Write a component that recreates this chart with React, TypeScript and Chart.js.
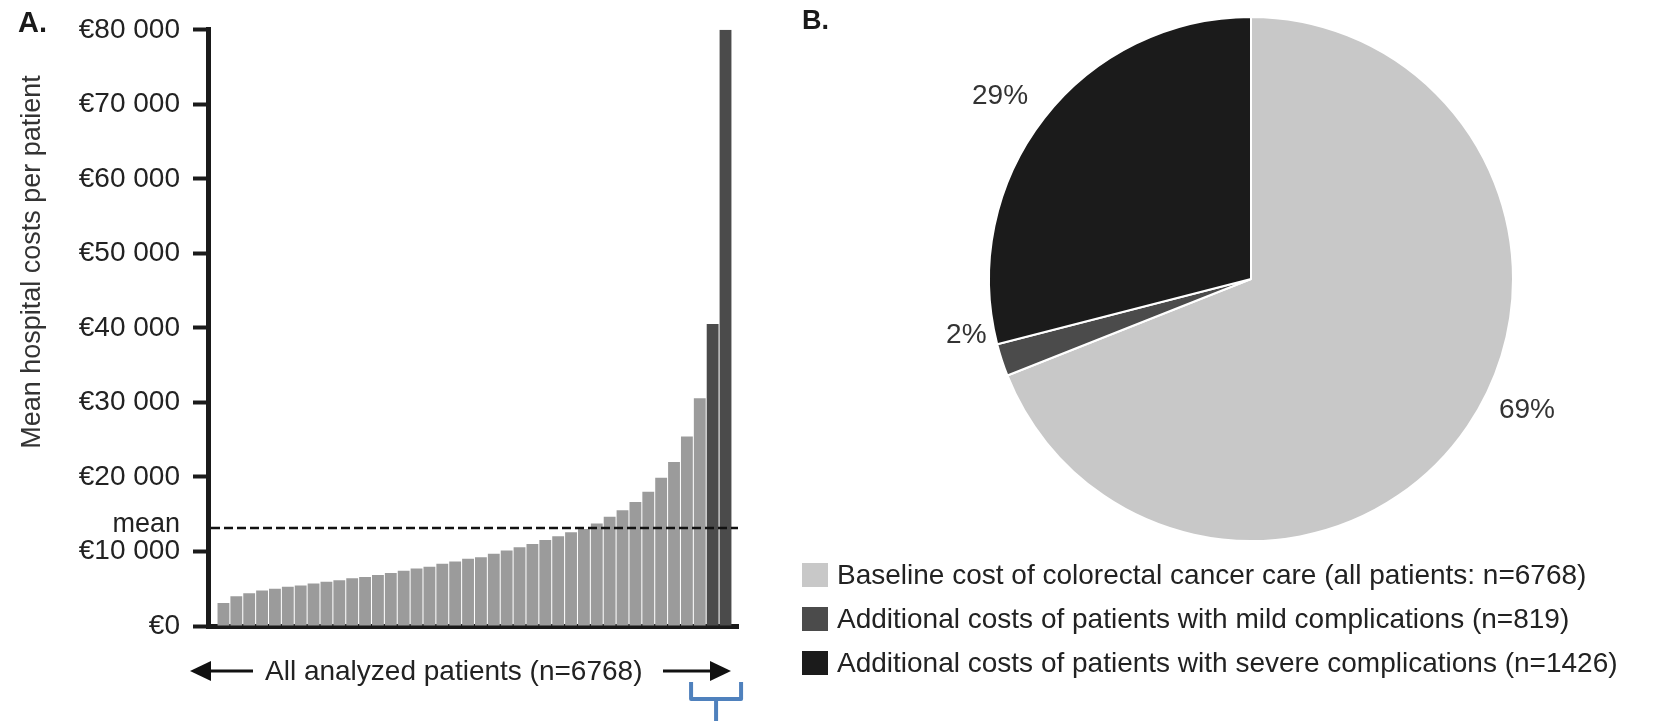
import React, { useEffect, useRef } from 'react';
import { Chart, registerables } from 'chart.js';

Chart.register(...registerables);

const FONT = '"Liberation Sans", Arial, Helvetica, sans-serif';

// Panel A: mean hospital costs per patient group (sorted), euros
const barCosts = [
  3100, 4000, 4400, 4750, 5000, 5250, 5450, 5700, 5950, 6130,
  6400, 6570, 6840, 7100, 7410, 7730, 7950, 8350, 8660, 9010,
  9240, 9680, 10120, 10570, 11010, 11540, 12030, 12570, 13010, 13770,
  14650, 15540, 16650, 18030, 19890, 22020, 25440, 30550, 40530, 80000,
];
const highlightedBars = 2; // last bars shown darker
const meanCost = 13150;
const yMax = 80000;
const yStep = 10000;
const yAxisTitle = 'Mean hospital costs per patient';
const xAxisNote = 'All analyzed patients (n=6768)';
const meanLabel = 'mean';

// Panel B: share of total costs
const pieLabels = [
  'Baseline cost of colorectal cancer care (all patients: n=6768)',
  'Additional costs of patients with mild complications (n=819)',
  'Additional costs of patients with severe complications (n=1426)',
];
const pieShares = [69, 2, 29];
const pieValueLabels = ['69%', '2%', '29%'];

// styles
const pieColors = ['#c8c8c8', '#4b4b4b', '#1b1b1b'];
const barLight = '#9b9b9b';
const barDark = '#4b4b4b';
const pieLabelShiftDeg = [-9, 7, -1.6];
const pieLabelGap = [43, 28, 49];

function formatEuro(v: number) {
  if (v === 0) return '€0';
  return '€' + Math.round(v / 1000) + ' 000';
}

export default function App() {
  const barRef = useRef<HTMLCanvasElement | null>(null);
  const pieRef = useRef<HTMLCanvasElement | null>(null);

  useEffect(() => {
    if (!barRef.current || !pieRef.current) return;

    const barColors = barCosts.map((_, i) =>
      i >= barCosts.length - highlightedBars ? barDark : barLight
    );

    const barDecor = {
      id: 'barDecor',
      afterDraw(chart: any) {
        const { ctx, chartArea, scales } = chart;
        const ys = scales.y;
        const xs = scales.x;
        ctx.save();
        // mean line
        const my = ys.getPixelForValue(meanCost);
        ctx.strokeStyle = '#111';
        ctx.lineWidth = 2.5;
        ctx.setLineDash([9, 4]);
        ctx.beginPath();
        ctx.moveTo(chartArea.left + 3, my);
        ctx.lineTo(chartArea.right, my);
        ctx.stroke();
        ctx.setLineDash([]);

        // mean label
        ctx.fillStyle = '#222';
        ctx.font = `27px ${FONT}`;
        ctx.textAlign = 'right';
        ctx.textBaseline = 'alphabetic';
        ctx.fillText(meanLabel, chartArea.left - 28, my + 4);

        // y title
        ctx.save();
        ctx.translate(33, 262);
        ctx.rotate(-Math.PI / 2);
        ctx.textAlign = 'center';
        ctx.textBaseline = 'middle';
        ctx.font = `27px ${FONT}`;
        ctx.fillStyle = '#333';
        ctx.fillText(yAxisTitle, 0, 0);
        ctx.restore();

        // panel letter
        ctx.font = `bold 29px ${FONT}`;
        ctx.fillStyle = '#1a1a1a';
        ctx.textAlign = 'left';
        ctx.textBaseline = 'alphabetic';
        ctx.fillText('A.', 18, 32);

        // x annotation with arrows
        const ay = 671;
        ctx.fillStyle = '#222';
        ctx.font = `28px ${FONT}`;
        ctx.fillText(xAxisNote, 265, 680);
        ctx.strokeStyle = '#111';
        ctx.lineWidth = 3;
        ctx.beginPath();
        ctx.moveTo(205, ay);
        ctx.lineTo(253, ay);
        ctx.moveTo(663, ay);
        ctx.lineTo(714, ay);
        ctx.stroke();
        ctx.fillStyle = '#111';
        ctx.beginPath();
        ctx.moveTo(190, ay);
        ctx.lineTo(211, ay - 10);
        ctx.lineTo(211, ay + 10);
        ctx.closePath();
        ctx.fill();
        ctx.beginPath();
        ctx.moveTo(731, ay);
        ctx.lineTo(710, ay - 10);
        ctx.lineTo(710, ay + 10);
        ctx.closePath();
        ctx.fill();

        // bracket under highlighted bars
        const n = barCosts.length;
        const cx =
          (xs.getPixelForValue(n - highlightedBars) + xs.getPixelForValue(n - 1)) / 2 - 3;
        ctx.strokeStyle = '#4f81bd';
        ctx.lineWidth = 4;
        ctx.lineJoin = 'round';
        ctx.lineCap = 'butt';
        ctx.beginPath();
        ctx.moveTo(cx - 25, 682);
        ctx.lineTo(cx - 25, 699);
        ctx.lineTo(cx + 25, 699);
        ctx.lineTo(cx + 25, 682);
        ctx.moveTo(cx, 699);
        ctx.lineTo(cx, 722);
        ctx.stroke();
        ctx.restore();
      },
    };

    const bar = new Chart(barRef.current, {
      type: 'bar',
      data: {
        datasets: [
          {
            data: barCosts.map((v, i) => ({ x: i, y: v })),
            backgroundColor: barColors,
            borderWidth: 0,
            barPercentage: 0.92,
            categoryPercentage: 1,
          },
        ],
      },
      options: {
        animation: false,
        responsive: false,
        maintainAspectRatio: false,
        layout: { padding: { left: 0, right: 22, top: 25, bottom: 95 } },
        plugins: { legend: { display: false }, tooltip: { enabled: false } },
        scales: {
          x: {
            type: 'linear',
            min: -1.2,
            max: barCosts.length - 0.03,
            offset: false,
            grid: { display: false, drawTicks: false, offset: false },
            ticks: { display: false },
            border: { display: true, color: '#1a1a1a', width: 5 },
            afterFit: (s: any) => {
              s.height = 0;
            },
          },
          y: {
            min: 0,
            max: yMax,
            ticks: {
              stepSize: yStep,
              callback: (v: any) => formatEuro(Number(v)),
              font: { family: FONT, size: 28 },
              color: '#222',
              padding: 13,
            },
            grid: {
              drawOnChartArea: false,
              drawTicks: true,
              tickLength: 15,
              tickWidth: 4,
              color: '#1a1a1a',
            },
            border: { display: true, color: '#1a1a1a', width: 5 },
            afterFit: (s: any) => {
              s.width = 208;
            },
          },
        },
      } as any,
      plugins: [barDecor as any],
    });

    const pieDecor = {
      id: 'pieDecor',
      afterDraw(chart: any) {
        const { ctx } = chart;
        const meta = chart.getDatasetMeta(0);
        ctx.save();
        ctx.font = `28px ${FONT}`;
        ctx.fillStyle = '#333';
        ctx.textAlign = 'center';
        ctx.textBaseline = 'middle';
        meta.data.forEach((arc: any, i: number) => {
          const p = arc.getProps(['x', 'y', 'startAngle', 'endAngle', 'outerRadius'], true);
          const a = (p.startAngle + p.endAngle) / 2 + (pieLabelShiftDeg[i] * Math.PI) / 180;
          const r = p.outerRadius + pieLabelGap[i];
          ctx.fillText(pieValueLabels[i], p.x + Math.cos(a) * r, p.y + Math.sin(a) * r + 1);
        });
        ctx.font = `bold 27px ${FONT}`;
        ctx.fillStyle = '#1a1a1a';
        ctx.textAlign = 'left';
        ctx.textBaseline = 'alphabetic';
        ctx.fillText('B.', 22, 29);
        ctx.restore();
      },
    };

    const pie = new Chart(pieRef.current, {
      type: 'pie',
      data: {
        labels: pieLabels,
        datasets: [
          {
            data: pieShares,
            backgroundColor: pieColors,
            borderColor: '#ffffff',
            borderWidth: 2,
          },
        ],
      },
      options: {
        animation: false,
        responsive: false,
        maintainAspectRatio: false,
        layout: { padding: { left: 208, right: 144, top: 16, bottom: 18 } },
        plugins: { legend: { display: false }, tooltip: { enabled: false } },
      } as any,
      plugins: [pieDecor as any],
    });

    return () => {
      bar.destroy();
      pie.destroy();
    };
  }, []);

  return (
    <div
      style={{
        position: 'absolute',
        left: 0,
        top: 0,
        width: 1658,
        height: 721,
        background: '#fff',
        overflow: 'hidden',
      }}
    >
      <canvas
        ref={barRef}
        width={760}
        height={721}
        style={{ position: 'absolute', left: 0, top: 0, width: 760, height: 721 }}
      />
      <canvas
        ref={pieRef}
        width={878}
        height={560}
        style={{ position: 'absolute', left: 780, top: 0, width: 878, height: 560 }}
      />
      <div style={{ position: 'absolute', left: 802, top: 553 }}>
        {pieLabels.map((label, i) => (
          <div
            key={label}
            style={{ display: 'flex', alignItems: 'center', height: 44 }}
          >
            <div
              style={{
                width: 26,
                height: 24,
                background: pieColors[i],
                marginRight: 9,
                flex: 'none',
              }}
            />
            <span
              style={{
                fontFamily: FONT,
                fontSize: 28,
                color: '#222',
                whiteSpace: 'nowrap',
                lineHeight: '44px',
              }}
            >
              {label}
            </span>
          </div>
        ))}
      </div>
    </div>
  );
}
